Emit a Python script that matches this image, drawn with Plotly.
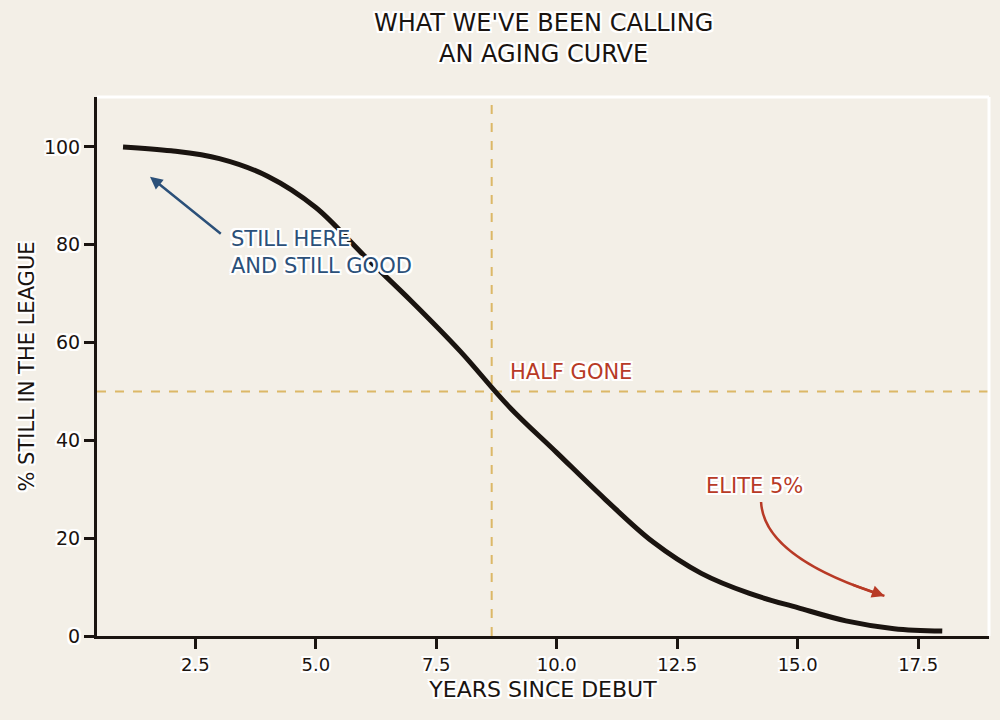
import plotly.graph_objects as go

# ---- data ----
years = [1, 2, 3, 4, 5, 6, 7, 8, 9, 10, 11, 12, 13, 14, 15, 16, 17, 18]
pct_still = [100, 99.2, 97.6, 94.0, 87.6, 77.8, 68.3, 58.2, 47.0, 37.5, 28.0, 19.2, 12.8, 8.7, 5.8, 3.1, 1.5, 1.0]
x_ticks = [2.5, 5.0, 7.5, 10.0, 12.5, 15.0, 17.5]
x_tick_text = ["2.5", "5.0", "7.5", "10.0", "12.5", "15.0", "17.5"]
y_ticks = [0, 20, 40, 60, 80, 100]

half_x = 8.65
half_y = 50

title_text = "WHAT WE'VE BEEN CALLING<br>AN AGING CURVE"
x_title = "YEARS SINCE DEBUT"
y_title = "% STILL IN THE LEAGUE"

# annotation anchors
good_text = "STILL HERE<br>AND STILL GOOD"
good_text_pos = (3.2, 78.5)
good_arrow_from = (3.06, 82.0)
good_arrow_to = (1.56, 93.9)

half_text = "HALF GONE"
half_text_pos = (8.98, 54.0)

elite_text = "ELITE 5%"
elite_text_pos = (14.1, 30.7)
elite_arrow_from = (14.24, 27.4)
elite_arrow_ctrl = (14.3, 16.0)
elite_arrow_to = (16.8, 8.2)

# ---- styles ----
BG = "#f3efe7"
INK = "#1a1410"
BLUE = "#2b5079"
RED = "#b83a26"
GOLD = "#dcb867"
FONT = "DejaVu Sans, Noto Sans, sans-serif"
HALO = "-2px -2px 0 #fff, 2px -2px 0 #fff, -2px 2px 0 #fff, 2px 2px 0 #fff, 0 2px 0 #fff, 0 -2px 0 #fff, 2px 0 0 #fff, -2px 0 0 #fff"

fig = go.Figure()
fig.add_trace(go.Scatter(
    x=years, y=pct_still, mode="lines",
    line=dict(color=INK, width=5, shape="spline", smoothing=1.0),
    hoverinfo="skip", showlegend=False,
))

# reference lines
fig.add_shape(type="line", xref="x", yref="paper", x0=half_x, x1=half_x, y0=0, y1=1,
              line=dict(color=GOLD, width=2, dash="dash"), layer="below")
fig.add_shape(type="line", xref="paper", yref="y", x0=0, x1=1, y0=half_y, y1=half_y,
              line=dict(color=GOLD, width=2, dash="dash"), layer="below")

# white top/right frame
fig.add_shape(type="line", xref="paper", yref="paper", x0=0, x1=1, y0=1, y1=1,
              line=dict(color="white", width=3))
fig.add_shape(type="line", xref="paper", yref="paper", x0=1, x1=1, y0=0, y1=1,
              line=dict(color="white", width=3))

# curved arrow for elite
p0, c, p2 = elite_arrow_from, elite_arrow_ctrl, elite_arrow_to
fig.add_shape(type="path", xref="x", yref="y",
              path=f"M {p0[0]},{p0[1]} Q {c[0]},{c[1]} {p2[0]},{p2[1]}",
              line=dict(color=RED, width=2.5))
t = 0.85
bx = (1 - t) ** 2 * p0[0] + 2 * (1 - t) * t * c[0] + t ** 2 * p2[0]
by = (1 - t) ** 2 * p0[1] + 2 * (1 - t) * t * c[1] + t ** 2 * p2[1]
fig.add_annotation(x=p2[0], y=p2[1], ax=bx, ay=by, axref="x", ayref="y", xref="x", yref="y",
                   text="", showarrow=True, arrowhead=2, arrowsize=1.0, arrowwidth=2.5,
                   arrowcolor=RED)

# blue arrow
fig.add_annotation(x=good_arrow_to[0], y=good_arrow_to[1], ax=good_arrow_from[0], ay=good_arrow_from[1],
                   axref="x", ayref="y", xref="x", yref="y", text="", showarrow=True,
                   arrowhead=2, arrowsize=1.0, arrowwidth=2.5, arrowcolor=BLUE)

fig.add_annotation(x=good_text_pos[0], y=good_text_pos[1], xref="x", yref="y", text=good_text,
                   showarrow=False, xanchor="left", yanchor="middle", align="left",
                   font=dict(family=FONT, size=21, color=BLUE, shadow=HALO))
fig.add_annotation(x=half_text_pos[0], y=half_text_pos[1], xref="x", yref="y", text=half_text,
                   showarrow=False, xanchor="left", yanchor="middle",
                   font=dict(family=FONT, size=21, color=RED, shadow=HALO))
fig.add_annotation(x=elite_text_pos[0], y=elite_text_pos[1], xref="x", yref="y", text=elite_text,
                   showarrow=False, xanchor="center", yanchor="middle",
                   font=dict(family=FONT, size=21, color=RED, shadow=HALO))

# title as annotation above plot
fig.add_annotation(x=0.5, y=1, xref="paper", yref="paper", yshift=27, text=title_text,
                   showarrow=False, xanchor="center", yanchor="bottom", align="center",
                   font=dict(family=FONT, size=24, color=INK, shadow=HALO))

fig.update_layout(
    width=1000, height=720,
    paper_bgcolor=BG, plot_bgcolor=BG,
    margin=dict(l=97, r=11, t=97, b=84),
    font=dict(family=FONT, color=INK, size=18),
    showlegend=False,
)
fig.update_xaxes(
    range=[0.46, 18.97], tickvals=x_ticks, ticktext=x_tick_text,
    showgrid=False, zeroline=False, showline=True, linecolor=INK, linewidth=3,
    ticks="outside", ticklen=10, tickwidth=3, tickcolor=INK,
    tickfont=dict(family=FONT, size=18, color=INK, shadow=HALO),
    title=dict(text=x_title, standoff=9, font=dict(family=FONT, size=22, color=INK, shadow=HALO)),
)
fig.update_yaxes(
    range=[0, 110.2], tickvals=y_ticks,
    showgrid=False, zeroline=False, showline=True, linecolor=INK, linewidth=3,
    ticks="outside", ticklen=10, tickwidth=3, tickcolor=INK,
    tickfont=dict(family=FONT, size=19, color=INK, shadow=HALO),
    title=dict(text=y_title, standoff=4, font=dict(family=FONT, size=21, color=INK, shadow=HALO)),
)

fig.write_html("out.html")
